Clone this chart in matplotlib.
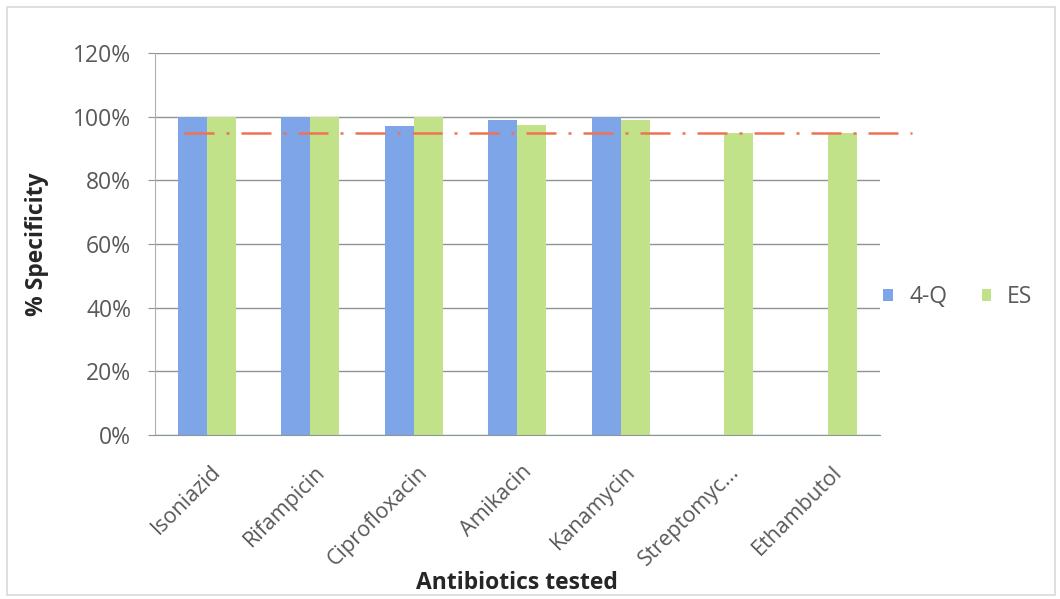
import matplotlib.pyplot as plt
import matplotlib.patches as mpatches
import matplotlib.transforms as mtransforms
import numpy as np

plt.rcParams["font.family"] = ["Open Sans", "DejaVu Sans"]

drugs = ["Isoniazid", "Rifampicin", "Ciprofloxacin", "Amikacin",
         "Kanamycin", "Streptomyc...", "Ethambutol"]
q4 = [100, 100, 97, 99, 100, 0, 0]      # 4-Q
es = [100, 100, 100, 97.5, 99, 95, 95]  # ES
cutoff = 95
yticks = [0, 20, 40, 60, 80, 100, 120]

blue = "#7ea5e8"
green = "#c2e289"
grey = "#595959"

fig = plt.figure(figsize=(10.6, 5.99), dpi=100)
ax = fig.add_axes([0.146, 0.2738, 0.684, 0.6377])

x = np.arange(len(drugs))
w = 0.28
ax.bar(x - w / 2, q4, w, color=blue, label="4-Q", zorder=2)
ax.bar(x + w / 2, es, w, color=green, label="ES", zorder=2)

ax.axhline(cutoff, xmin=0.04, xmax=1.045, color="#ef7255", lw=1.8,
           dashes=(12, 4.8, 1.2, 4.8), clip_on=False, zorder=3)

ax.set_xlim(-0.5, len(drugs) - 0.5)
ax.set_ylim(0, 120)
ax.set_yticks(yticks)
ax.set_yticklabels([f"{v}%" for v in yticks], fontsize=16.5, color=grey)
ax.yaxis.grid(True, color="#8c9696", lw=1, zorder=0)
ax.tick_params(axis="y", length=5, color="#8c9696", pad=12)

ax.set_xticks(x)
ax.set_xticklabels(drugs, rotation=45, ha="right", rotation_mode="anchor",
                   fontsize=15.5, color=grey)
ax.tick_params(axis="x", length=0, pad=19)
shift = mtransforms.ScaledTranslation(4 / 100, 0, fig.dpi_scale_trans)
for lab in ax.get_xticklabels():
    lab.set_transform(lab.get_transform() + shift)

for s in ["top", "right"]:
    ax.spines[s].set_visible(False)
ax.spines["left"].set_color("#b0b0b0")
ax.spines["bottom"].set_color("#8c9696")

ax.set_ylabel("% Specificity", fontsize=16.5, fontweight="bold", color="#262626",
              labelpad=17)
fig.text(0.488, 0.027, "Antibiotics tested", fontsize=16.5, fontweight="bold",
         color="#262626", ha="center", va="center")

fig.legend(loc="center left", bbox_to_anchor=(0.814, 0.504), ncol=2,
           frameon=False, fontsize=16.5, handlelength=0.42, handleheight=0.42,
           columnspacing=1.5, handletextpad=0.7, labelcolor=grey)

fig.patches.append(mpatches.Rectangle((0.007, 0.006), 0.988, 0.983,
                                      transform=fig.transFigure, fill=False,
                                      edgecolor="#d9d9d9", lw=1.2))

fig.savefig("out.png", dpi=100)
